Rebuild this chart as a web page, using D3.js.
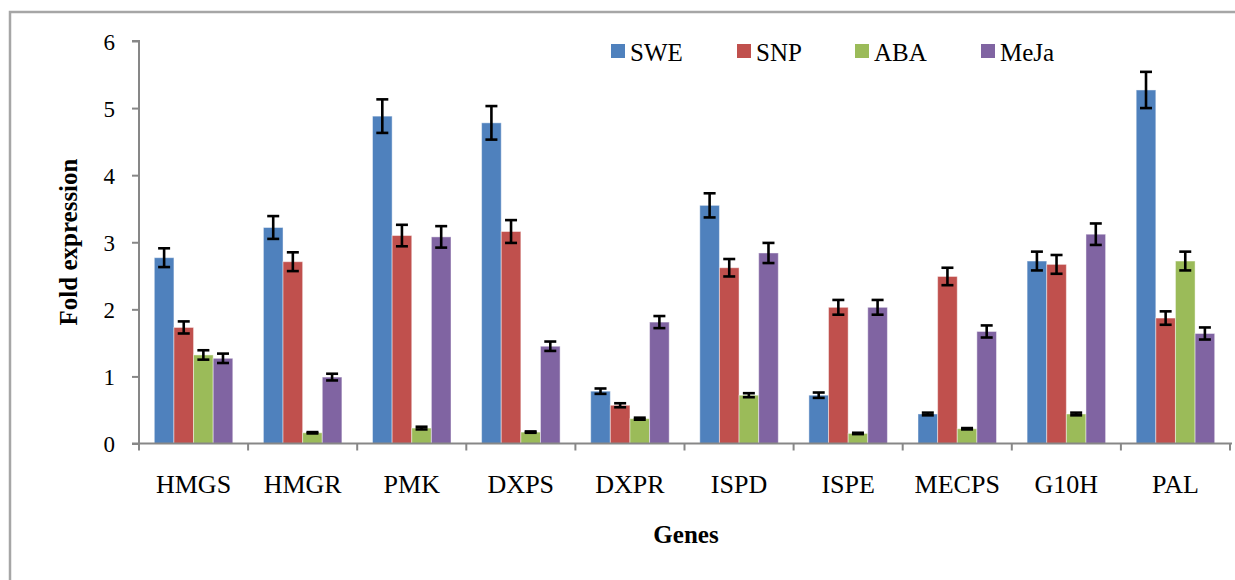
<!DOCTYPE html>
<html>
<head>
<meta charset="utf-8">
<script src="https://cdn.jsdelivr.net/npm/d3@7/dist/d3.min.js"></script>
<style>
  body { margin: 0; background: #fff; }
  svg text { font-family: "Liberation Serif", "Times New Roman", serif; fill: #000; }
</style>
</head>
<body>
<div id="chart"></div>
<script>
// data
var genes = ["HMGS", "HMGR", "PMK", "DXPS", "DXPR", "ISPD", "ISPE", "MECPS", "G10H", "PAL"];
var series = ["SWE", "SNP", "ABA", "MeJa"];
var colors = ["#4f81bd", "#c0504d", "#9bbb59", "#8064a2"];

var swe  = [2.77, 3.22, 4.88, 4.78, 0.78, 3.55, 0.72, 0.44, 2.72, 5.27];
var snp  = [1.73, 2.71, 3.10, 3.16, 0.57, 2.62, 2.03, 2.49, 2.67, 1.87];
var aba  = [1.32, 0.16, 0.23, 0.17, 0.37, 0.72, 0.15, 0.22, 0.44, 2.72];
var meja = [1.27, 0.99, 3.08, 1.45, 1.81, 2.84, 2.03, 1.67, 3.12, 1.64];

var sweErr  = [0.14, 0.17, 0.25, 0.25, 0.04, 0.18, 0.04, 0.02, 0.14, 0.27];
var snpErr  = [0.09, 0.14, 0.16, 0.17, 0.03, 0.13, 0.11, 0.13, 0.14, 0.10];
var abaErr  = [0.07, 0.01, 0.02, 0.01, 0.015, 0.03, 0.01, 0.01, 0.02, 0.14];
var mejaErr = [0.07, 0.05, 0.16, 0.07, 0.09, 0.15, 0.11, 0.09, 0.16, 0.09];

var yTicks = [0, 1, 2, 3, 4, 5, 6];

var values = [swe, snp, aba, meja];
var errors = [sweErr, snpErr, abaErr, mejaErr];

var width = 1235, height = 580;
var axisColor = "#878787";

var svg = d3.select("#chart").append("svg")
    .attr("width", width)
    .attr("height", height);

// outer frame
svg.append("rect")
    .attr("x", 10).attr("y", 12)
    .attr("width", 1240).attr("height", 600)
    .attr("fill", "none")
    .attr("stroke", "#a6a6a6")
    .attr("stroke-width", 2.5);

// scales
var x = d3.scaleBand().domain(genes).range([139, 1230]);
var xInner = d3.scaleBand().domain(series)
    .range([15.3, x.bandwidth() - 15.3]);
var y = d3.scaleLinear().domain([0, 6]).range([443.5, 41]);

// flatten into rows for drawing
var rows = [];
genes.forEach(function(g, i) {
  series.forEach(function(s, j) {
    rows.push({gene: g, s: s, j: j, v: values[j][i], e: errors[j][i]});
  });
});

// bars
svg.append("g").selectAll("rect")
    .data(rows)
    .enter().append("rect")
    .attr("x", d => x(d.gene) + xInner(d.s))
    .attr("y", d => y(d.v))
    .attr("width", xInner.bandwidth())
    .attr("height", d => y(0) - y(d.v))
    .attr("fill", d => colors[d.j])
    .attr("stroke", "#ffffff")
    .attr("stroke-opacity", 0.45)
    .attr("stroke-width", 1);

// error bars
var eb = svg.append("g")
    .attr("stroke", "#000")
    .attr("stroke-width", 2.6)
    .selectAll("g")
    .data(rows)
    .enter().append("g")
    .attr("transform", d => "translate(" + (x(d.gene) + xInner(d.s) + xInner.bandwidth() / 2) + ",0)");

eb.append("line")
    .attr("y1", d => y(d.v + d.e))
    .attr("y2", d => y(d.v - d.e));
eb.append("line")
    .attr("x1", -6).attr("x2", 6)
    .attr("y1", d => y(d.v + d.e))
    .attr("y2", d => y(d.v + d.e));
eb.append("line")
    .attr("x1", -6).attr("x2", 6)
    .attr("y1", d => y(d.v - d.e))
    .attr("y2", d => y(d.v - d.e));

// y axis
var yAxis = svg.append("g")
    .attr("transform", "translate(139,0)")
    .call(d3.axisLeft(y).tickValues(yTicks).tickFormat(d3.format("d")).tickSize(7).tickPadding(17));
yAxis.selectAll("path, line").attr("stroke", axisColor).attr("stroke-width", 2);
yAxis.select(".domain").attr("d", "M-7,41H0V443.5");
yAxis.selectAll("text")
    .style("font-size", "23px")
    .attr("dy", "0.36em");

// x axis: line, boundary ticks, labels
var xg = svg.append("g").attr("transform", "translate(0," + y(0) + ")");
xg.append("line")
    .attr("x1", 132).attr("x2", 1232)
    .attr("stroke", axisColor).attr("stroke-width", 2);
xg.selectAll(".bt")
    .data(genes.map(g => x(g)).concat([x.range()[1]]))
    .enter().append("line")
    .attr("class", "bt")
    .attr("x1", d => d).attr("x2", d => d)
    .attr("y1", 0).attr("y2", 7)
    .attr("stroke", axisColor).attr("stroke-width", 2);
xg.selectAll(".lab")
    .data(genes)
    .enter().append("text")
    .attr("class", "lab")
    .attr("x", d => x(d) + x.bandwidth() / 2)
    .attr("y", 49.5)
    .attr("text-anchor", "middle")
    .style("font-size", "26px")
    .text(d => d);

// axis titles
svg.append("text")
    .attr("x", 686).attr("y", 543)
    .attr("text-anchor", "middle")
    .style("font-size", "25px")
    .style("font-weight", "bold")
    .text("Genes");

svg.append("text")
    .attr("transform", "translate(77,242) rotate(-90)")
    .attr("text-anchor", "middle")
    .style("font-size", "25px")
    .style("font-weight", "bold")
    .text("Fold expression");

// legend
var legendX = [611, 737, 855, 981];
var legend = svg.append("g").selectAll("g")
    .data(series)
    .enter().append("g")
    .attr("transform", (d, i) => "translate(" + legendX[i] + ",44)");
legend.append("rect")
    .attr("width", 14).attr("height", 14)
    .attr("fill", (d, i) => colors[i]);
legend.append("text")
    .attr("x", 19).attr("y", 17)
    .style("font-size", "25px")
    .text(d => d);
</script>
</body>
</html>
